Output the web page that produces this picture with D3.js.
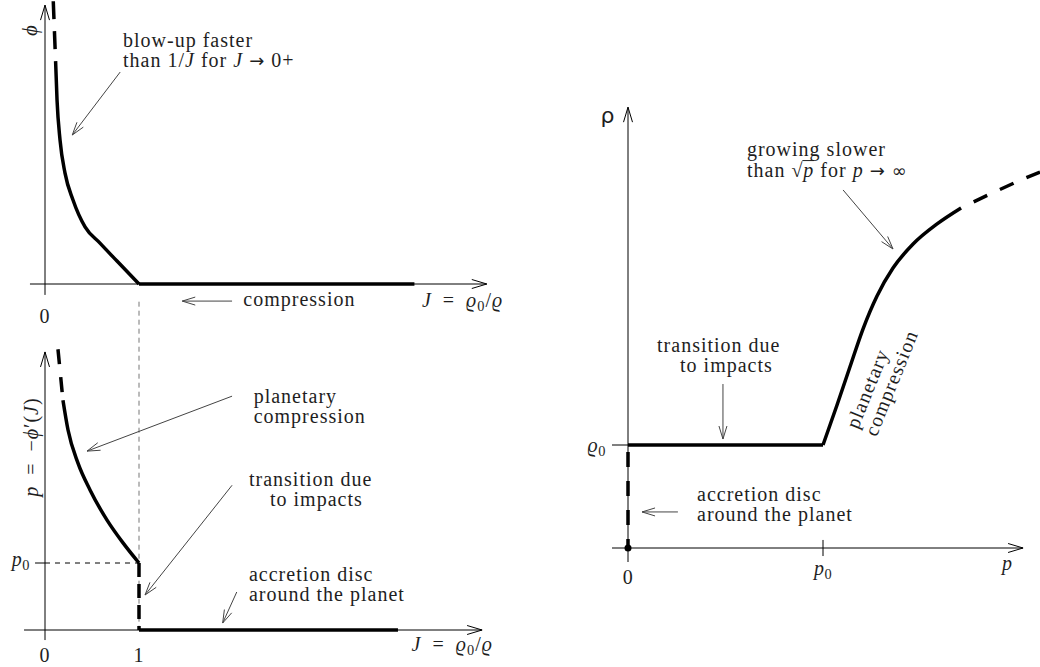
<!DOCTYPE html>
<html><head><meta charset="utf-8">
<script src="https://cdn.jsdelivr.net/npm/d3@7"></script>
<style>body{margin:0;background:#fff} svg{display:block}</style>
</head><body>
<svg id="c" width="1040" height="667"></svg>
<script>
// ---------------- data (model units) ----------------
// top panel: phi(J)
const phiDashed = [[0.088,10.1],[0.113,7.93]];
const phiCurve  = [[0.113,7.93],[0.128,6.57],[0.160,5.14],[0.213,3.96],[0.298,3.0],[0.426,2.04],[0.585,1.46],[0.766,0.82],[1.0,0]];
const phiFlat   = [[1,0],[3.93,0]];
// bottom panel: p = -phi'(J)
const pDashed = [[0.138,4.19],[0.191,3.43]];
const pCurve  = [[0.191,3.43],[0.245,2.985],[0.351,2.49],[0.479,2.09],[0.660,1.64],[0.830,1.30],[1.0,1.0]];
const pJump   = [[1,1],[1,0]];
const pFlat   = [[1,0],[3.755,0]];
// right panel: rho(p)
const rhoFlat   = [[0,1],[1,1]];
const rhoCurve  = [[1,1],[1.072,1.388],[1.138,1.757],[1.205,2.126],[1.277,2.447],[1.359,2.718],[1.462,2.951],[1.585,3.146],[1.708,3.301]];
const rhoDashed = [[1.708,3.301],[1.85,3.43],[2.0,3.56],[2.113,3.65]];
const rhoJump   = [[0,1],[0,0]];
// ticks / tick labels
const topXTicks = [0], topXLabels = ["0"];
const botXTicks = [0,1], botXLabels = ["0","1"];
const botYTicks = [1];                       // p0
const rightXTicks = [0,1], rightXLabels = ["0","p0"];
const rightYTicks = [1];                     // rho0

// ---------------- scales ----------------
const xJ   = d3.scaleLinear([0,1],[45,139]);
const yPhi = d3.scaleLinear([0,10],[284,4]);
const yP   = d3.scaleLinear([0,1],[630,563]);
const xp   = d3.scaleLinear([0,1],[628,823]);
const yr   = d3.scaleLinear([0,1],[548,445]);

const SERIF = "'Liberation Serif','DejaVu Serif',serif";
const SYM = "'DejaVu Sans',sans-serif";
const TXT = "#1e1e1e";
const svg = d3.select("#c");

// ---------------- helpers ----------------
function head(g, x1,y1,x2,y2, len, spread, color, w){
  const a = Math.atan2(y2-y1, x2-x1);
  const ux=Math.cos(a), uy=Math.sin(a);
  const bx=x2-ux*len, by=y2-uy*len;
  const px=-uy*spread, py=ux*spread;
  g.append("path").attr("d",`M${bx+px},${by+py}L${x2},${y2}L${bx-px},${by-py}`)
    .attr("fill","none").attr("stroke",color).attr("stroke-width",w);
}
function axis(g, x1,y1,x2,y2){
  g.append("line").attr("x1",x1).attr("y1",y1).attr("x2",x2).attr("y2",y2)
    .attr("stroke","#000").attr("stroke-width",1);
  head(g,x1,y1,x2,y2,15,4.5,"#000",1);
}
function arrow(g, x1,y1,x2,y2){
  g.append("line").attr("x1",x1).attr("y1",y1).attr("x2",x2).attr("y2",y2)
    .attr("stroke","#444").attr("stroke-width",1);
  head(g,x1,y1,x2,y2,13,4,"#444",1);
}
// one <text> per label; lines = array of {dx, segs}; segs: string | {t, it, sub, over, font}
function label(parent, x, y, lines, o={}){
  const size=o.size||20, lh=o.lh||20, rot=o.rotate||0;
  const g = parent.append("g").attr("transform",`translate(${x},${y}) rotate(${rot})`);
  const t = g.append("text").attr("font-family",o.font||SERIF).attr("font-size",size)
    .attr("fill",TXT).attr("text-anchor",o.anchor||"start")
    .style("letter-spacing",(o.ls!=null?o.ls:1)+"px")
    .attr("xml:space","preserve").style("white-space","pre");
  const overs=[]; let idx=0;
  lines.forEach((ln,li)=>{
    if(Array.isArray(ln)) ln={segs:ln};
    let shift=0;
    ln.segs.forEach((s,si)=>{
      if(typeof s==="string") s={t:s};
      const ts=t.append("tspan").text(s.t);
      const want = s.sub? size*0.22 : 0;
      if(si===0){ ts.attr("x", ln.dx||0).attr("y", li*lh + want); }
      else if(want!==shift){ ts.attr("dy", want-shift); }
      shift=want;
      if(s.sub) ts.attr("font-size", size*0.72);
      if(s.fs) ts.attr("font-size", s.fs);
      if(s.it) ts.attr("font-style","italic");
      if(s.font) ts.attr("font-family", s.font);
      if(s.over) overs.push({start:idx, n:s.t.length, line:li});
      idx += s.t.length;
    });
  });
  overs.forEach(ov=>{
    const node=t.node();
    let x0=Infinity,x1=-Infinity;
    for(let i=ov.start;i<ov.start+ov.n;i++){
      const e=node.getExtentOfChar(i); x0=Math.min(x0,e.x); x1=Math.max(x1,e.x+e.width);
    }
    g.append("line").attr("x1",x0-1).attr("x2",x1-0.5)
      .attr("y1",ov.line*lh-size*0.8).attr("y2",ov.line*lh-size*0.8)
      .attr("stroke",TXT).attr("stroke-width",1);
  });
  return g;
}
function curve(g, data, xs, ys, opt={}){
  const line = d3.line().x(d=>xs(d[0])).y(d=>ys(d[1])).curve(opt.curve||d3.curveLinear);
  const p = g.append("path").datum(data).attr("d",line).attr("fill","none")
    .attr("stroke","#000").attr("stroke-width",opt.w||3.5)
    .attr("stroke-linecap","butt").attr("stroke-linejoin","round");
  if(opt.dash) p.attr("stroke-dasharray",opt.dash);
  if(opt.offset!=null) p.attr("stroke-dashoffset",opt.offset);
  return p;
}
const JEQ = [{t:"J",it:1},"\u2002=\u2002",{t:"ϱ",it:1},{t:"0",sub:1},"/",{t:"ϱ",it:1}];

// ================= TOP PANEL =================
const gT = svg.append("g");
axis(gT, xJ(-0.16), yPhi(0), xJ(4.70), yPhi(0));
axis(gT, xJ(0), yPhi(-0.39), xJ(0), yPhi(9.96));
curve(gT, phiFlat, xJ, yPhi);
curve(gT, phiCurve, xJ, yPhi, {curve:d3.curveMonotoneX});
curve(gT, phiDashed, xJ, yPhi, {dash:"18,12"});
topXTicks.forEach((t,i)=>label(gT, xJ(t), yPhi(-1.39), [[topXLabels[i]]], {anchor:"middle"}));
label(gT, xJ(-0.09), yPhi(9.07), [[{t:"ϕ",it:1}]], {anchor:"middle", rotate:-90, size:21});
label(gT, xJ(4.01), yPhi(-0.82), [JEQ]);
label(gT, xJ(2.11), yPhi(-0.79), [["compression"]]);
arrow(gT, xJ(1.99), yPhi(-0.61), xJ(1.46), yPhi(-0.61));
label(gT, xJ(0.83), yPhi(8.46), [["blow-up faster"],
  ["than 1/",{t:"J",it:1}," for ",{t:"J",it:1}," ",{t:"→",font:SYM,fs:18}," 0+"]]);
arrow(gT, xJ(0.80), yPhi(7.57), xJ(0.29), yPhi(5.32));

// ================= BOTTOM PANEL =================
const gB = svg.append("g");
gB.append("line").attr("x1",xJ(1)).attr("x2",xJ(1)).attr("y1",yP(4.9)).attr("y2",yP(0))
  .attr("stroke","#777").attr("stroke-width",1).attr("stroke-dasharray","5,4");
axis(gB, xJ(-0.223), yP(0), xJ(4.65), yP(0));
axis(gB, xJ(0), yP(-0.15), xJ(0), yP(4.15));
botYTicks.forEach(t=>{
  gB.append("line").attr("x1",xJ(-0.106)).attr("x2",xJ(0)).attr("y1",yP(t)).attr("y2",yP(t)).attr("stroke","#000");
  gB.append("line").attr("x1",xJ(0)).attr("x2",xJ(1)).attr("y1",yP(t)).attr("y2",yP(t))
    .attr("stroke","#000").attr("stroke-width",1).attr("stroke-dasharray","5,5");
  label(gB, xJ(-0.16), yP(t-0.045), [[{t:"p",it:1},{t:"0",sub:1}]], {anchor:"end", ls:0.5});
});
botXTicks.forEach((t,i)=>label(gB, xJ(t), yP(-0.478), [[botXLabels[i]]], {anchor:"middle"}));
curve(gB, pFlat, xJ, yP);
curve(gB, pJump, xJ, yP, {dash:"14,7"});
curve(gB, pCurve, xJ, yP, {curve:d3.curveMonotoneX});
curve(gB, pDashed, xJ, yP, {dash:"15,13"});
label(gB, xJ(-0.07), yP(2.73), [[{t:"p",it:1},"\u2002=\u2002−",{t:"ϕ",it:1},"′(",{t:"J",it:1},")"]], {anchor:"middle", rotate:-90});
label(gB, xJ(3.90), yP(-0.313), [JEQ]);
label(gB, xJ(2.22), yP(3.39), [["planetary"],["compression"]]);
arrow(gB, xJ(1.99), yP(3.49), xJ(0.447), yP(2.67));
label(gB, xJ(2.17), yP(2.15), [["transition due"],{dx:21, segs:["to impacts"]}]);
arrow(gB, xJ(1.99), yP(2.16), xJ(1.064), yP(0.522));
label(gB, xJ(2.17), yP(0.731), [["accretion disc"],["around the planet"]]);
arrow(gB, xJ(2.04), yP(0.567), xJ(1.89), yP(0.104));

// ================= RIGHT PANEL =================
const gR = svg.append("g");
axis(gR, xp(-0.082), yr(0), xp(2.026), yr(0));
axis(gR, xp(0), yr(-0.136), xp(0), yr(4.28));
rightYTicks.forEach(t=>{
  gR.append("line").attr("x1",xp(-0.082)).attr("x2",xp(0)).attr("y1",yr(t)).attr("y2",yr(t)).attr("stroke","#000");
  label(gR, xp(-0.113), yr(t-0.068), [[{t:"ϱ",it:1},{t:"0",sub:1}]], {anchor:"end", ls:0.5});
});
rightXTicks.forEach((t,i)=>{
  if(t!==0) gR.append("line").attr("x1",xp(t)).attr("x2",xp(t)).attr("y1",yr(0.078)).attr("y2",yr(-0.078)).attr("stroke","#000");
  const segs = rightXLabels[i]==="p0" ? [{t:"p",it:1},{t:"0",sub:1}] : [rightXLabels[i]];
  label(gR, xp(t), yr(t===0?-0.35:-0.262), [segs], {anchor:"middle", ls:0.5});
});
label(gR, xp(1.918), yr(-0.214), [[{t:"p",it:1}]]);
label(gR, xp(-0.105), yr(4.13), [[{t:"ρ"}]], {size:22, anchor:"middle", font:SYM, ls:0});
curve(gR, rhoJump, xp, yr, {dash:"15,14", offset:22});
curve(gR, rhoFlat, xp, yr);
curve(gR, rhoCurve, xp, yr, {curve:d3.curveMonotoneX});
curve(gR, rhoDashed, xp, yr, {curve:d3.curveMonotoneX, dash:"15,14", offset:15});
gR.append("circle").attr("cx",xp(0)).attr("cy",yr(0)).attr("r",3.5).attr("fill","#000");
label(gR, xp(0.61), yr(3.81), [["growing slower"],
  ["than ","√",{t:"p",it:1,over:1}," for ",{t:"p",it:1}," ",{t:"→",font:SYM,fs:18}," ",{t:"∞",font:SYM,fs:18}]], {lh:21});
arrow(gR, xp(1.103), yr(3.476), xp(1.359), yr(2.903));
label(gR, xp(0.149), yr(1.90), [["transition due"],{dx:23, segs:["to impacts"]}]);
arrow(gR, xp(0.487), yr(1.592), xp(0.487), yr(1.058));
label(gR, xp(1.179), yr(1.146), [["planetary"],["compression"]], {rotate:-68});
label(gR, xp(0.354), yr(0.456), [["accretion disc"],["around the planet"]]);
arrow(gR, xp(0.256), yr(0.35), xp(0.072), yr(0.35));
</script>
</body></html>
